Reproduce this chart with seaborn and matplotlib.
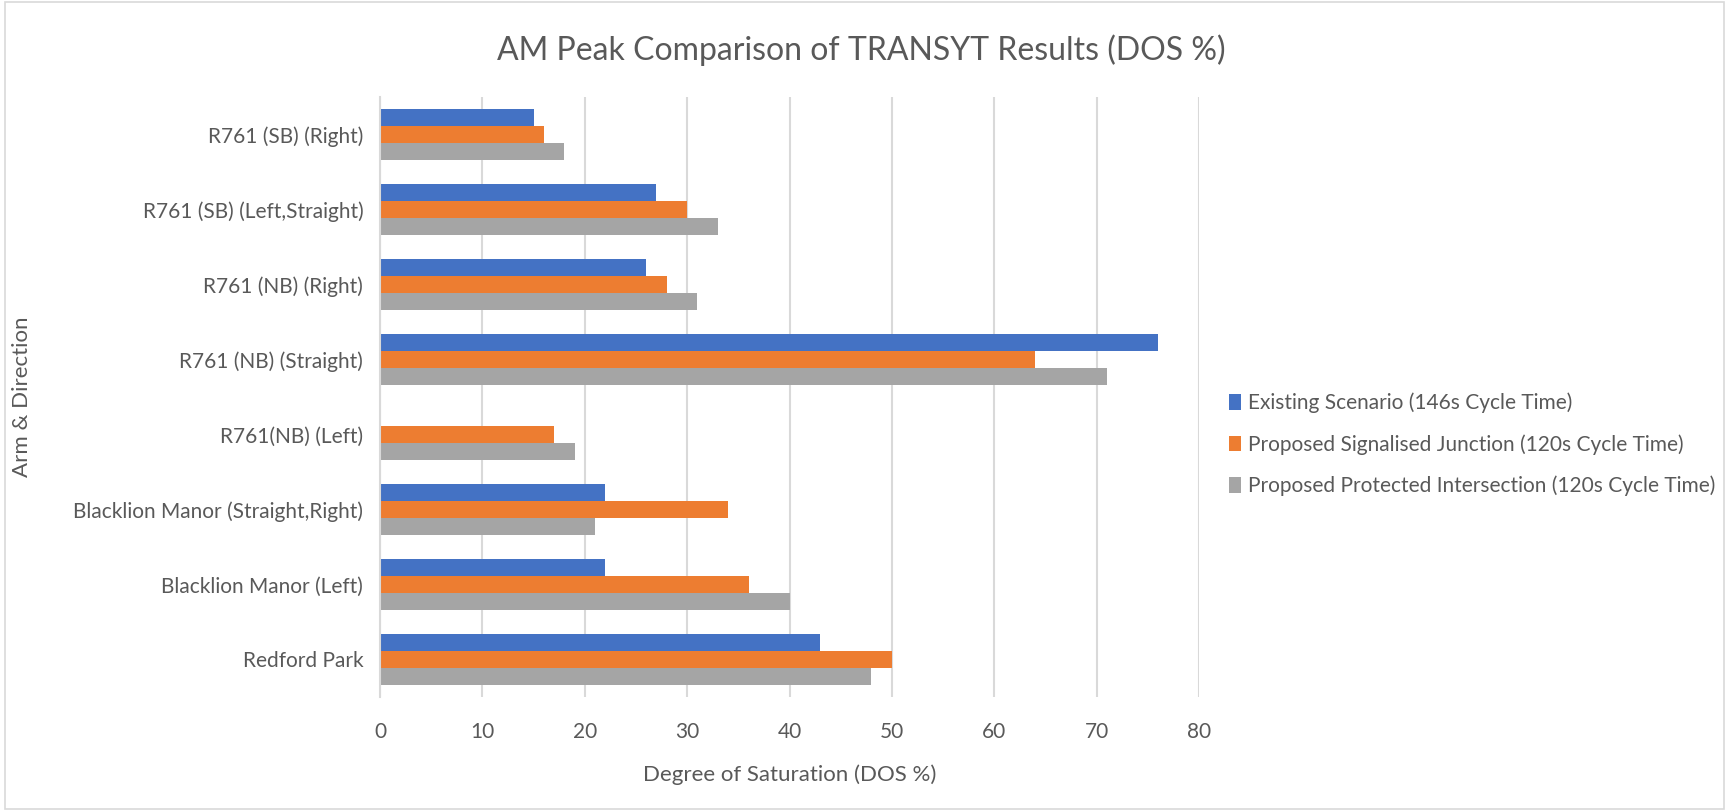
import matplotlib
matplotlib.use("Agg")
import matplotlib.pyplot as plt
import seaborn as sns
import pandas as pd
from matplotlib.patches import Rectangle

arms = [
    "R761 (SB) (Right)",
    "R761 (SB) (Left,Straight)",
    "R761 (NB) (Right)",
    "R761 (NB) (Straight)",
    "R761(NB) (Left)",
    "Blacklion Manor (Straight,Right)",
    "Blacklion Manor (Left)",
    "Redford Park",
]
scenarios = [
    "Existing Scenario (146s Cycle Time)",
    "Proposed Signalised Junction (120s Cycle Time)",
    "Proposed Protected Intersection (120s Cycle Time)",
]
existing = [15, 27, 26, 76, 0, 22, 22, 43]
signalised = [16, 30, 28, 64, 17, 34, 36, 50]
protected = [18, 33, 31, 71, 19, 21, 40, 48]
colours = ["#4472C4", "#ED7D31", "#A5A5A5"]

df = pd.DataFrame({
    "arm": arms * 3,
    "scenario": [s for s in scenarios for _ in arms],
    "dos": existing + signalised + protected,
})

sns.set_style("white")
plt.rcParams["font.family"] = ["Lato", "DejaVu Sans"]
text_col = "#595959"

fig = plt.figure(figsize=(17.29, 8.11), dpi=100)
ax = fig.add_axes([0.2198, 0.1406, 0.4737, 0.7398])

sns.barplot(data=df, y="arm", x="dos", hue="scenario", order=arms,
            hue_order=scenarios, palette=colours, saturation=1, orient="h",
            width=0.67, linewidth=0, ax=ax, legend=True)

ax.set_xlim(0, 80)
ax.set_xticks(range(0, 90, 10))
ax.grid(axis="x", color="#D9D9D9", linewidth=1.5)
ax.set_axisbelow(True)
for side in ["top", "right", "bottom"]:
    ax.spines[side].set_visible(False)
ax.spines["left"].set_color("#D9D9D9")
ax.spines["left"].set_linewidth(1.5)
ax.tick_params(axis="y", length=0, labelsize=15, colors=text_col, pad=12)
ax.tick_params(axis="x", length=0, labelsize=15, colors=text_col, pad=18)
ax.set_xlabel("Degree of Saturation (DOS %)", fontsize=16, color=text_col, labelpad=16)
ax.set_ylabel("Arm & Direction", fontsize=16, color=text_col, labelpad=30)

handles, labels = ax.get_legend_handles_labels()
ax.get_legend().remove()
fig.legend(handles, labels, loc="center left", bbox_to_anchor=(0.700, 0.452),
           frameon=False, fontsize=15, labelcolor=text_col, handlelength=0.55,
           handleheight=0.8, handletextpad=0.35, labelspacing=1.0)

fig.suptitle("AM Peak Comparison of TRANSYT Results (DOS %)", fontsize=23,
             color=text_col, x=0.498, y=0.958)

fig.patches.append(Rectangle((0.003, 0.003), 0.994, 0.994, transform=fig.transFigure,
                             fill=False, edgecolor="#D9D9D9", linewidth=1.2))

fig.savefig("out.png", dpi=100, facecolor="white")
